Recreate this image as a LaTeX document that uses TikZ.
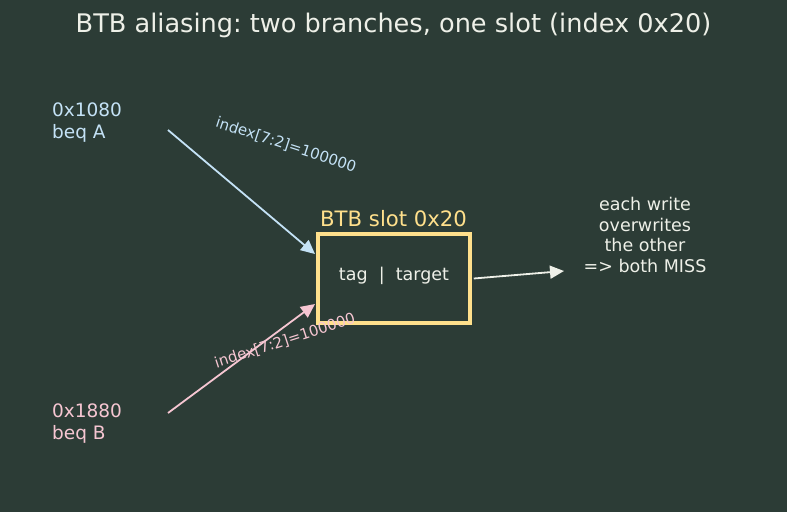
\documentclass[tikz,border=0pt]{standalone}
\usepackage{fontspec}
\setmainfont{DejaVu Sans}
\usetikzlibrary{arrows.meta}
\definecolor{bgcol}{HTML}{2C3C36}
\definecolor{acol}{HTML}{C4E2F6}
\definecolor{bcol}{HTML}{F6C6D2}
\definecolor{slotcol}{HTML}{FFE08C}
\definecolor{txtcol}{HTML}{EEF0E8}
\frenchspacing
\begin{document}
\begin{tikzpicture}[x=1pt,y=-1pt,
	every node/.style={inner sep=0pt},
	fs/.style 2 args={font=\fontsize{#1}{#2}\selectfont},
	arr/.style={line width=1.8pt,-{Triangle[length=14pt,width=13pt]}},
	idx/.style={fs={15}{18}}]
	\fill[bgcol] (0,0) rectangle (787,512);
	\node[txtcol,fs={25.6}{30}] (title) at (393.5,25) {BTB aliasing: two branches, one slot (index 0x20)};
	\node[acol,fs={18.5}{22},align=left,anchor=west] (a) at (52,123) {0x1080\\beq A};
	\node[bcol,fs={18.5}{22},align=left,anchor=west] (b) at (52,424) {0x1880\\beq B};
	\node[draw=slotcol,line width=3.5pt,minimum width=152pt,minimum height=89pt] (slot) at (394,278.5) {};
	\node[txtcol,fs={17.5}{21}] (entry) at (394,276) {tag\ \ |\ \ target};
	\node[slotcol,fs={21.2}{25},anchor=west] (name) at (320,219) {BTB slot 0x20};
	\node[txtcol,fs={17.5}{20.5},align=center] (note) at (645,235) {each write\\overwrites\\the other\\=> both MISS};
	\coordinate (aout) at (168,130);
	\coordinate (bout) at (168,413);
	\coordinate (ain) at (315,254);
	\coordinate (bin) at (315,304);
	\coordinate (nin) at (564,271);
	\draw[arr,acol] (aout) -- (ain);
	\draw[arr,bcol] (bout) -- (bin);
	\draw[arr,txtcol] ([xshift=2pt]slot.east) -- (nin);
	\node[acol,idx,rotate=-18] (alab) at (286,145) {index[7:2]=100000};
	\node[bcol,idx,rotate=18] (blab) at (285,341) {index[7:2]=100000};
\end{tikzpicture}
\end{document}
